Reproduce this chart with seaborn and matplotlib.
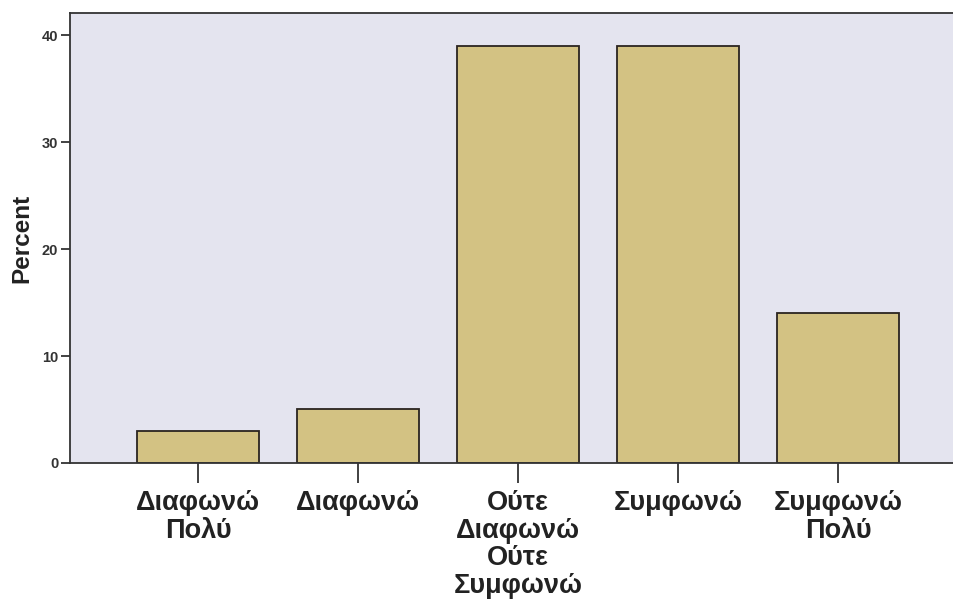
import matplotlib
matplotlib.use("Agg")
import matplotlib.pyplot as plt
import seaborn as sns
import pandas as pd

categories = ["Διαφωνώ\nΠολύ", "Διαφωνώ", "Ούτε\nΔιαφωνώ\nΟύτε\nΣυμφωνώ", "Συμφωνώ", "Συμφωνώ\nΠολύ"]
percent = [3, 5, 39, 39, 14]

df = pd.DataFrame({"cat": categories, "pct": percent})

sns.set_style("white")
plt.rcParams["font.family"] = ["Liberation Sans", "DejaVu Sans"]

fig = plt.figure(figsize=(9.54, 6.06), dpi=100)
ax = fig.add_axes([0.0734, 0.236, 0.9266, 0.7425])
ax.set_facecolor("#e4e4ef")

sns.barplot(data=df, x="cat", y="pct", ax=ax, color="#d3c283", saturation=1,
            width=0.757, edgecolor="#2a2420", linewidth=1.3)

ax.set_xlim(-0.8, 4.725)
ax.set_ylim(0, 42.06)
ax.set_yticks([0, 10, 20, 30, 40])
ax.set_xlabel("")
ax.set_ylabel("Percent", fontsize=17.5, fontweight="bold", color="#222222", labelpad=6)

for s in ["left", "top", "bottom"]:
    ax.spines[s].set_color("#333333")
    ax.spines[s].set_linewidth(1.3)
ax.spines["right"].set_visible(False)

ax.tick_params(axis="y", length=6.5, width=1.3, color="#333333", labelsize=10.5, pad=2)
ax.tick_params(axis="x", length=14.5, width=1.3, color="#333333", labelsize=19.5, pad=5)
ax.tick_params(left=True, bottom=True)
for t in ax.get_yticklabels():
    t.set_fontweight("bold")
    t.set_color("#333333")
for t in ax.get_xticklabels():
    t.set_fontweight("bold")
    t.set_color("#222222")
    t.set_linespacing(1.08)

fig.savefig("out.png", dpi=100, facecolor="white")
